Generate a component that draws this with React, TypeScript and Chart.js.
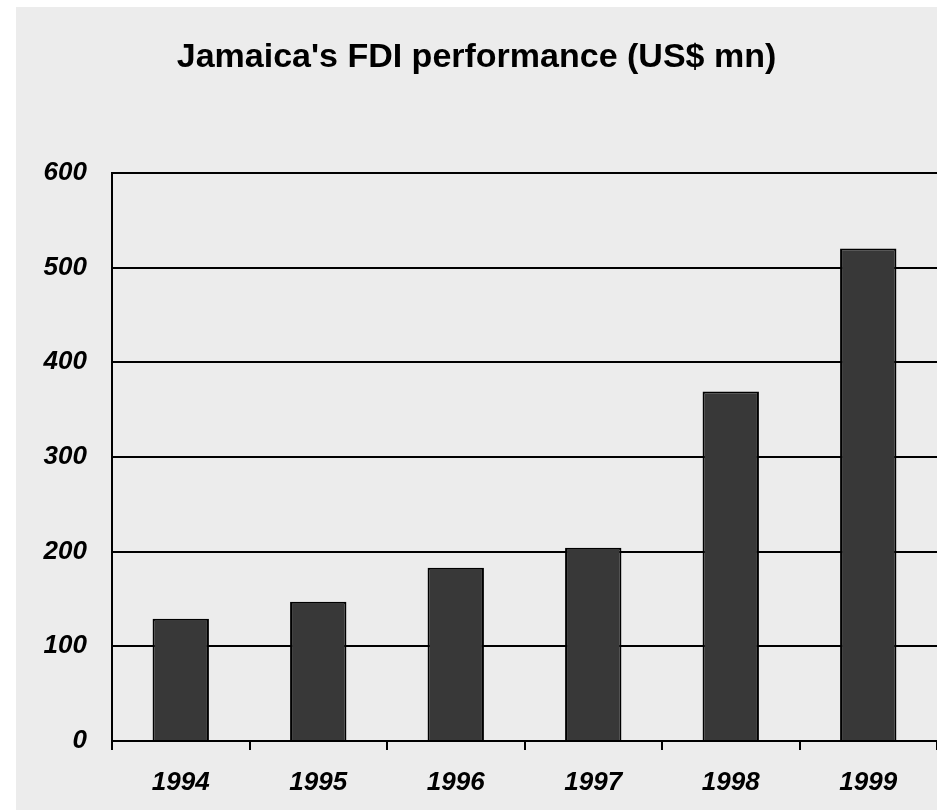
import React, { useEffect, useRef } from "react";
import { Chart, registerables } from "chart.js";

Chart.register(...registerables);

const TITLE = "Jamaica's FDI performance (US$ mn)";
const YEARS = ["1994", "1995", "1996", "1997", "1998", "1999"];
const FDI = [129, 147, 183, 204, 369, 520];
const Y_MIN = 0;
const Y_MAX = 600;
const Y_STEP = 100;

const FONT = "'Liberation Sans', Arial, sans-serif";

export default function App() {
  const ref = useRef<HTMLCanvasElement | null>(null);

  useEffect(() => {
    document.body.style.margin = "0";
    document.body.style.overflow = "hidden";
    const chart = new Chart(ref.current!, {
      type: "bar",
      data: {
        labels: YEARS,
        datasets: [
          {
            data: FDI,
            backgroundColor: "#383838",
            borderColor: "#000000",
            borderWidth: 2,
            categoryPercentage: 0.82,
            barPercentage: 0.5,
          },
        ],
      },
      options: {
        animation: false,
        responsive: false,
        maintainAspectRatio: false,
        layout: { padding: { left: 0, right: 0, top: 0, bottom: 0 } },
        plugins: {
          legend: { display: false },
          tooltip: { enabled: false },
          title: {
            display: true,
            text: TITLE,
            color: "#000000",
            font: { family: FONT, size: 34, weight: "bold" },
            padding: { top: 30, bottom: 95 },
          },
        },
        scales: {
          x: {
            offset: true,
            grid: {
              display: true,
              offset: true,
              drawOnChartArea: false,
              drawTicks: true,
              tickLength: 9,
              color: "#000000",
              lineWidth: 2,
            },
            border: { display: true, color: "#000000", width: 2 },
            ticks: {
              color: "#000000",
              padding: 17,
              font: { family: FONT, size: 26, weight: "bold", style: "italic" },
            },
            afterFit: (s: any) => {
              s.height = 69;
            },
          },
          y: {
            min: Y_MIN,
            max: Y_MAX,
            grid: {
              color: "#000000",
              lineWidth: 2,
              drawTicks: false,
            },
            border: { display: true, color: "#000000", width: 2 },
            ticks: {
              stepSize: Y_STEP,
              color: "#000000",
              padding: 25,
              font: { family: FONT, size: 26, weight: "bold", style: "italic" },
            },
            afterFit: (s: any) => {
              s.width = 96;
            },
          },
        },
      },
    });
    return () => chart.destroy();
  }, []);

  return (
    <div
      style={{
        position: "absolute",
        left: 16,
        top: 7,
        width: 921,
        height: 803,
        background: "#ececec",
      }}
    >
      <canvas ref={ref} width={921} height={803} style={{ display: "block" }} />
    </div>
  );
}
